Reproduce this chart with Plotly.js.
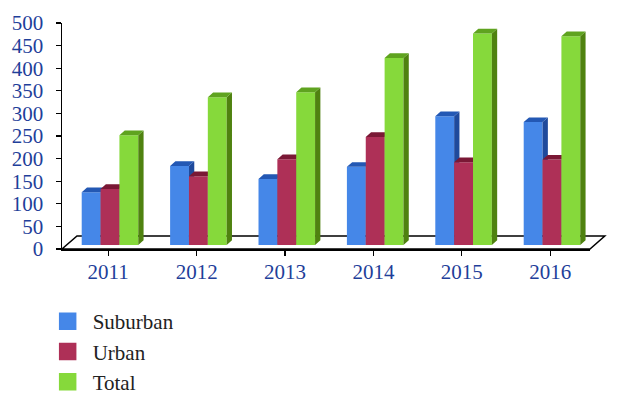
<!DOCTYPE html>
<html><head><meta charset="utf-8">
<script src="https://cdn.plot.ly/plotly-3.0.0.min.js"></script>
<style>html,body{margin:0;padding:0;background:#fff}</style></head>
<body><div id="chart" style="width:620px;height:404px"></div>
<script>
const years = [2011, 2012, 2013, 2014, 2015, 2016];
const suburban = [117, 175, 146, 173, 285, 272];
const urban = [124, 152, 190, 239, 183, 189];
const total = [243, 327, 338, 414, 468, 462];
const seriesNames = ['Suburban', 'Urban', 'Total'];
const yTicks = [0, 50, 100, 150, 200, 250, 300, 350, 400, 450, 500];

const barW = 0.2133, firstOffset = -0.30, depthX = 0.06, depthY = 10.4, floorBase = 8.8;
const faces = [
  {v: suburban, front: '#4587E8', side: '#1F4A9C', top: '#2358B4'},
  {v: urban, front: '#AE3057', side: '#7A1835', top: '#7A1835'},
  {v: total, front: '#86D93B', side: '#4F8210', top: '#5FA31F'}
];
const traces = [];
faces.forEach((f, i) => {
  const ya = i === 0 ? 'y' : 'y' + (i + 1);
  const off = firstOffset + i * barW;
  traces.push({type: 'bar', x: years, y: f.v, base: floorBase, width: barW, offset: off,
    marker: {color: f.front, line: {width: 0}}, yaxis: ya, showlegend: false, name: seriesNames[i]});
  const sx = [], sy = [], tx = [], ty = [];
  years.forEach((yr, k) => {
    const x0 = yr + off, x1 = x0 + barW, t = floorBase + f.v[k];
    sx.push(x1, x1 + depthX, x1 + depthX, x1, x1, null);
    sy.push(floorBase, floorBase + depthY, t + depthY, t, floorBase, null);
    tx.push(x0, x1, x1 + depthX, x0 + depthX, x0, null);
    ty.push(t, t, t + depthY, t + depthY, t, null);
  });
  [[sx, sy, f.side], [tx, ty, f.top]].forEach(([px, py, c]) => traces.push({
    type: 'scatter', mode: 'lines', x: px, y: py, fill: 'toself', fillcolor: c,
    line: {width: 0, color: c}, yaxis: ya, hoverinfo: 'skip', showlegend: false}));
});
faces.forEach((f, i) => traces.push({
  type: 'scatter', mode: 'markers', x: [null], y: [null], name: seriesNames[i],
  marker: {symbol: 'square', size: 16, color: f.front, line: {width: 1.5, color: f.front}}
}));

const serif = '"Liberation Serif", serif', blue = '#1F3F9A';
const yRange = [0, 500];
const layout = {
  width: 620, height: 404, paper_bgcolor: '#fff', plot_bgcolor: 'rgba(0,0,0,0)',
  margin: {l: 62, r: 30, t: 22.5, b: 155, pad: 0, autoexpand: false},
  xaxis: {type: 'linear', range: [2010.477, 2016.45], tickmode: 'array', tickvals: years,
    ticktext: years.map(String), showgrid: false, zeroline: false, showline: true,
    linecolor: '#000', linewidth: 2, ticks: 'outside', ticklen: 5, tickwidth: 1.3, tickcolor: '#000',
    tickfont: {family: serif, size: 21, color: blue}, ticklabelstandoff: -2},
  yaxis: {range: yRange, tickmode: 'array', tickvals: yTicks, showgrid: false, zeroline: false,
    showline: true, linecolor: '#000', linewidth: 1.5, ticks: 'outside', ticklen: 5, tickwidth: 1.3,
    tickcolor: '#000', tickfont: {family: serif, size: 21, color: blue}, ticklabelstandoff: 8},
  yaxis2: {range: yRange, overlaying: 'y', visible: false},
  yaxis3: {range: yRange, overlaying: 'y', visible: false},
  barmode: 'overlay',
  shapes: [{type: 'path', xref: 'paper', yref: 'paper', layer: 'below',
    path: 'M 0 0 L 1 0 L 1.028 0.0574 L 0.0284 0.0574 Z', fillcolor: '#fff', line: {color: '#000', width: 1.5}}],
  legend: {x: -0.0366, y: -0.23, xanchor: 'left', yanchor: 'top', itemwidth: 40,
    font: {family: serif, size: 21, color: '#222'}, bgcolor: 'rgba(0,0,0,0)', itemclick: false},
  showlegend: true
};
Plotly.newPlot('chart', traces, layout, {displayModeBar: false, staticPlot: true});
</script></body></html>
